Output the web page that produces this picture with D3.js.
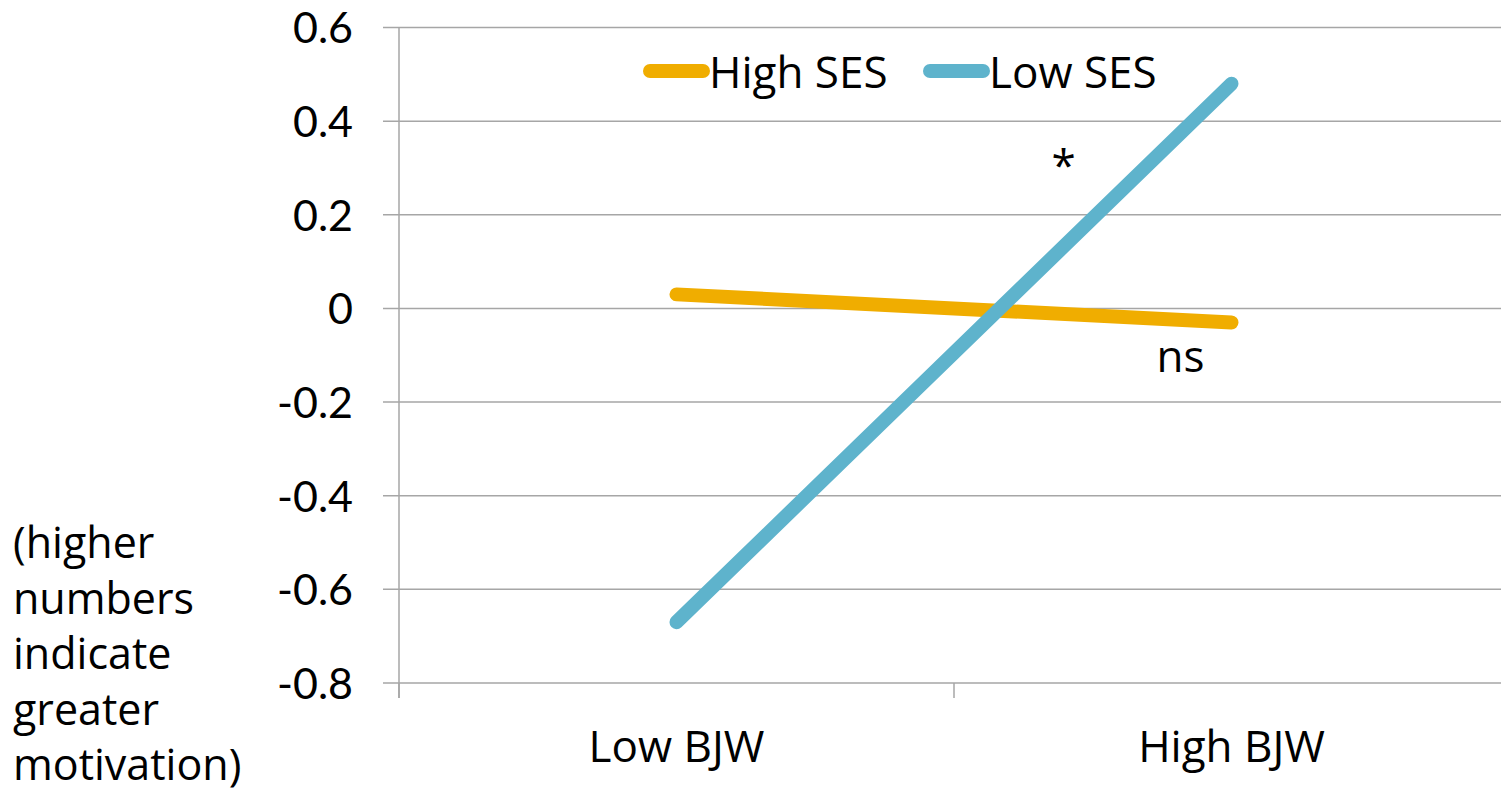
<!DOCTYPE html>
<html>
<head>
<meta charset="utf-8">
<script src="https://cdn.jsdelivr.net/npm/d3@7"></script>
<style>
  html, body { margin: 0; padding: 0; background: #fff; }
  svg { display: block; }
  text { font-family: "Open Sans", "Noto Sans", sans-serif; fill: #000; }
</style>
</head>
<body>
<svg id="chart" width="1501" height="792"></svg>
<script>
const categories = ["Low BJW", "High BJW"];
const seriesNames = ["High SES", "Low SES"];
const highSES = [0.03, -0.03];
const lowSES = [-0.67, 0.48];
const yTicks = [-0.8, -0.6, -0.4, -0.2, 0, 0.2, 0.4, 0.6];
const yTickLabels = ["-0.8", "-0.6", "-0.4", "-0.2", "0", "0.2", "0.4", "0.6"];
const colors = ["#F0AD00", "#5EB3CC"];
const annotations = [
  { text: "*", cat: "High BJW", value: 0.272, dx: -180 },
  { text: "ns", cat: "High BJW", value: -0.136, dx: -75 }
];
const yLabelLines = ["(higher", "numbers", "indicate", "greater", "motivation)"];

const svg = d3.select("#chart");
const fontSize = 44;

const x = d3.scaleBand().domain(categories).range([399, 1509]).paddingInner(0).paddingOuter(0);
const y = d3.scaleLinear().domain([-0.8, 0.6]).range([683, 27.5]);

// gridlines
const grid = svg.append("g");
grid.selectAll("line").data(yTicks).join("line")
  .attr("x1", 383).attr("x2", 1509)
  .attr("y1", d => y(d)).attr("y2", d => y(d))
  .attr("stroke", "#a6a6a6").attr("stroke-width", 1.5);

// y axis
const yAxis = d3.axisLeft(y).tickValues(yTicks).tickSize(0).tickPadding(0)
  .tickFormat((d, i) => yTickLabels[i]);
const yg = svg.append("g").attr("transform", "translate(399,0)").call(yAxis);
yg.select(".domain").remove();
yg.selectAll("text").attr("x", -46).attr("dy", "0.36em")
  .style("font-size", "43px").style("font-family", "Lato, 'Open Sans', sans-serif").attr("fill", "#000");
svg.append("line").attr("x1", 399).attr("x2", 399).attr("y1", 27.5).attr("y2", 698)
  .attr("stroke", "#a6a6a6").attr("stroke-width", 1.5);

// x axis
const xAxis = d3.axisBottom(x).tickSize(0).tickPadding(0);
const xg = svg.append("g").attr("transform", "translate(0,683)").call(xAxis);
xg.select(".domain").remove();
xg.selectAll("text").attr("y", 79).attr("dy", null)
  .style("font-size", fontSize + "px").style("font-family", "'Open Sans', sans-serif").attr("fill", "#000");
const bounds = categories.map(c => x(c)).concat([x(categories[categories.length - 1]) + x.bandwidth()]);
svg.append("g").selectAll("line").data(bounds).join("line")
  .attr("x1", d => d).attr("x2", d => d).attr("y1", 683).attr("y2", 698)
  .attr("stroke", "#a6a6a6").attr("stroke-width", 1.5);

// lines
const line = d3.line().x((d, i) => x(categories[i]) + x.bandwidth() / 2).y(d => y(d));
[highSES, lowSES].forEach((s, k) => {
  svg.append("path").datum(s).attr("d", line)
    .attr("fill", "none").attr("stroke", colors[k]).attr("stroke-width", 14)
    .attr("stroke-linecap", "round").attr("stroke-linejoin", "round");
});

// legend
const legend = svg.append("g");
const legendItems = [{ x: 643, name: seriesNames[0], c: colors[0] }, { x: 923, name: seriesNames[1], c: colors[1] }];
legendItems.forEach(it => {
  legend.append("line").attr("x1", it.x + 7).attr("x2", it.x + 60).attr("y1", 71).attr("y2", 71)
    .attr("stroke", it.c).attr("stroke-width", 14).attr("stroke-linecap", "round");
  legend.append("text").attr("x", it.x + 66).attr("y", 88)
    .style("font-size", fontSize + "px").text(it.name);
});

// annotations
annotations.forEach(a => {
  svg.append("text").attr("x", x(a.cat) + x.bandwidth() / 2 + a.dx).attr("y", y(a.value))
    .style("font-size", fontSize + "px").text(a.text);
});

// y label
svg.append("g").selectAll("text").data(yLabelLines).join("text")
  .attr("x", 13).attr("y", (d, i) => 558 + i * 55.5)
  .style("font-size", "43px").text(d => d);
</script>
</body>
</html>
